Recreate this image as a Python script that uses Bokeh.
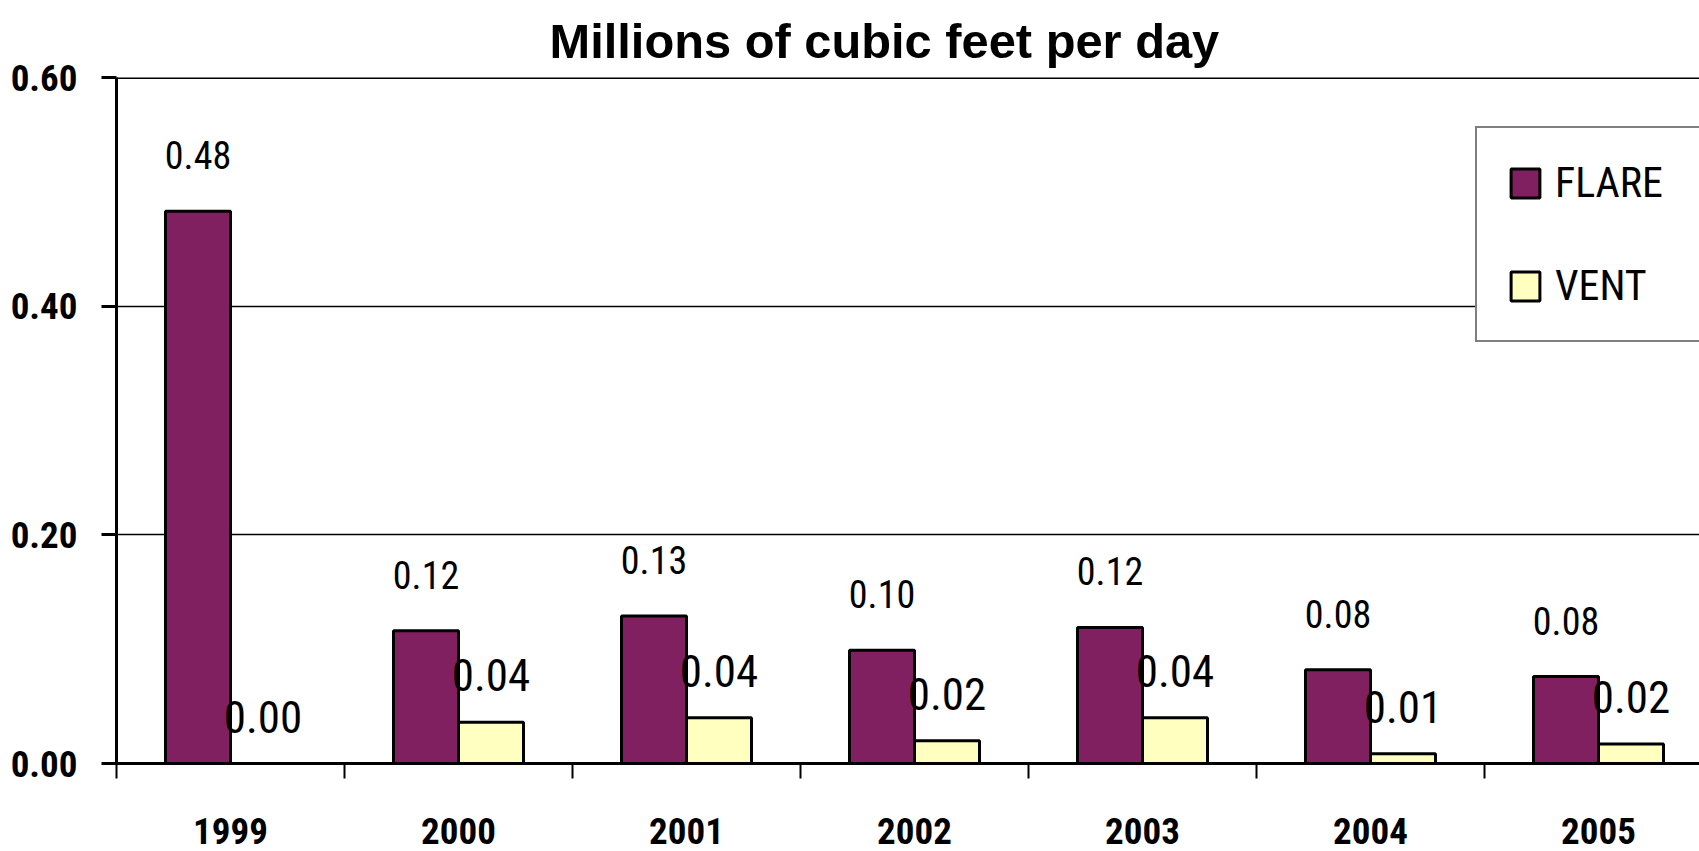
from bokeh.plotting import figure
from bokeh.models import (ColumnDataSource, Range1d, FixedTicker, Span,
                          Legend, LegendItem)
from bokeh.core.properties import value
from bokeh.embed import file_html
from bokeh.resources import INLINE

# Daily flared and vented gas volumes, millions of cubic feet per day
years = ["1999", "2000", "2001", "2002", "2003", "2004", "2005"]
flare = [0.483, 0.116, 0.129, 0.099, 0.119, 0.082, 0.076]
vent = [0.000, 0.036, 0.040, 0.020, 0.040, 0.0085, 0.017]
y_ticks = [0.0, 0.2, 0.4, 0.6]
title_text = "Millions of cubic feet per day"

FLARE_COLOR = "#802060"
VENT_COLOR = "#FFFFC0"
NARROW = "'Liberation Sans Narrow', 'Roboto Condensed', 'DejaVu Sans Condensed', sans-serif"
BAR_W = 0.285

idx = list(range(len(years)))
src = ColumnDataSource(dict(
    xf=[i - BAR_W / 2 for i in idx],
    xv=[i + BAR_W / 2 for i in idx],
    flare=flare,
    vent=vent,
    flare_lbl=["%.2f" % v for v in flare],
    vent_lbl=["%.2f" % v for v in vent],
))

p = figure(width=1699, height=851,
           x_range=Range1d(-0.5, 6.443), y_range=Range1d(0, 0.6),
           min_border_left=116, min_border_right=0,
           min_border_top=77, min_border_bottom=88,
           output_backend="svg", toolbar_location=None)
p.outline_line_color = None
p.background_fill_color = "white"
p.border_fill_color = "white"

# title
p.title.text = title_text
p.title.text_font = "Liberation Sans"
p.title.text_font_style = "bold"
p.title.text_font_size = "48.8px"
p.title.text_color = "black"
p.title.align = "left"
p.title.vertical_align = "bottom"
p.title.offset = 433
p.title.standoff = 20

# bars
r_flare = p.vbar(x="xf", top="flare", width=BAR_W, source=src,
                 fill_color=FLARE_COLOR, line_color="black", line_width=3)
r_vent = p.vbar(x="xv", top="vent", width=BAR_W, source=src,
                fill_color=VENT_COLOR, line_color="black", line_width=3)

# value labels
p.text(x="xf", y="flare", text="flare_lbl", source=src,
       text_align="center", text_baseline="alphabetic", y_offset=-56,
       text_font=value(NARROW), text_font_size="38px", text_color="black")
p.text(x="xv", y="vent", text="vent_lbl", source=src,
       text_align="center", text_baseline="alphabetic", y_offset=-47,
       text_font=value(NARROW), text_font_size="45px", text_color="black")

# top border of the plotting area
p.add_layout(Span(location=0.6, dimension="width",
                  line_color="black", line_width=3))

# y axis
yax = p.yaxis[0]
yax.ticker = FixedTicker(ticks=y_ticks)
yax.major_label_overrides = {t: "%.2f" % t for t in y_ticks}
yax.axis_line_width = 3
yax.axis_line_color = "black"
yax.major_tick_out = 15
yax.major_tick_in = 0
yax.major_tick_line_width = 3
yax.minor_tick_line_color = None
yax.major_label_standoff = 24
yax.major_label_text_font = NARROW
yax.major_label_text_font_style = "bold"
yax.major_label_text_font_size = "37px"
yax.major_label_text_color = "black"

# x axis: labels at category centres, ticks at category boundaries
xax = p.xaxis[0]
xax.ticker = FixedTicker(ticks=idx, minor_ticks=[i - 0.5 for i in range(len(years) + 1)])
xax.major_label_overrides = {i: y for i, y in zip(idx, years)}
xax.axis_line_width = 3
xax.axis_line_color = "black"
xax.major_tick_line_color = None
xax.major_tick_out = 0
xax.major_tick_in = 0
xax.minor_tick_out = 15
xax.minor_tick_in = 0
xax.minor_tick_line_width = 2
xax.minor_tick_line_color = "black"
xax.major_label_standoff = 39
xax.major_label_text_font = NARROW
xax.major_label_text_font_style = "bold"
xax.major_label_text_font_size = "37px"
xax.major_label_text_color = "black"

p.xgrid.grid_line_color = None
p.ygrid.grid_line_color = "black"
p.ygrid.grid_line_width = 1.5

legend = Legend(items=[LegendItem(label="FLARE", renderers=[r_flare]),
                       LegendItem(label="VENT", renderers=[r_vent])],
                location=(1359, 421), orientation="vertical",
                border_line_color="black", border_line_width=2,
                background_fill_color="white", background_fill_alpha=1,
                padding=30, spacing=54, margin=0,
                glyph_width=36, glyph_height=36, label_standoff=12,
                label_width=220,
                label_text_font=NARROW, label_text_font_size="42px",
                label_text_color="black")
p.add_layout(legend)

open("out.html", "w").write(file_html(p, INLINE))
